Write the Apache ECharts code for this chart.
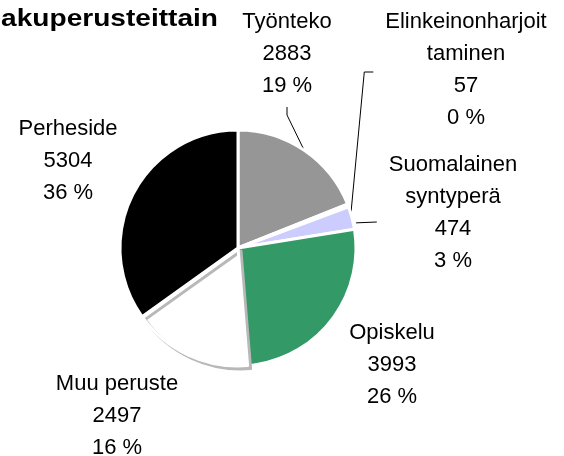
<!DOCTYPE html>
<html>
<head>
<meta charset="utf-8">
<script src="https://cdn.jsdelivr.net/npm/echarts@6/dist/echarts.min.js"></script>
<style>
  html, body { margin: 0; padding: 0; background: #fff; }
  #chart { width: 564px; height: 456px; }
</style>
</head>
<body>
<div id="chart"></div>
<script>
// ── Data ────────────────────────────────────────────────────────────────
const categories = ['Työnteko', 'Elinkeinonharjoittaminen', 'Suomalainen syntyperä', 'Opiskelu', 'Muu peruste', 'Perheside'];
const labelNames = ['Työnteko', 'Elinkeinonharjoit\ntaminen', 'Suomalainen\nsyntyperä', 'Opiskelu', 'Muu peruste', 'Perheside'];
const counts = [2883, 57, 474, 3993, 2497, 5304];
const percentLabels = ['19 %', '0 %', '3 %', '26 %', '16 %', '36 %'];
const titleText = 'akuperusteittain';

// ── Styles / layout ─────────────────────────────────────────────────────
const fontFamily = '"Liberation Sans", Arial, sans-serif';
const sliceColors = ['#969696', '#ffffff', '#ccccff', '#339966', '#ffffff', '#000000'];
const labelCenters = [[287, 54], [466, 70], [453, 213], [392, 365], [117, 416], [68, 161]];
const withLeader = [true, true, true, false, false, false];

const chart = echarts.init(document.getElementById('chart'), null, { renderer: 'canvas' });

const data = categories.map((name, i) => ({
  name: name,
  value: counts[i],
  itemStyle: Object.assign(
    { color: sliceColors[i] },
    i === 4 ? { shadowColor: '#b8b8b8', shadowOffsetX: 3, shadowOffsetY: 3, shadowBlur: 0 } : {}
  ),
  labelLine: { show: withLeader[i] },
}));

chart.setOption({
  animation: false,
  backgroundColor: '#ffffff',
  // title is cut off at the left edge in the original, and drawn a bit wide
  graphic: [{
    type: 'text',
    x: 218, y: 19,
    scaleX: 1.17,
    style: {
      text: titleText,
      font: 'bold 24px ' + fontFamily,
      fill: '#000',
      align: 'right',
      verticalAlign: 'middle',
    },
  }],
  series: [{
    type: 'pie',
    center: [238, 248],
    radius: 118,
    startAngle: 90,
    clockwise: true,
    avoidLabelOverlap: false,
    itemStyle: { borderColor: '#ffffff', borderWidth: 3 },
    emphasis: { disabled: true },
    label: {
      show: true,
      position: 'outside',
      fontFamily: fontFamily,
      fontSize: 22,
      lineHeight: 32,
      color: '#000',
      align: 'center',
      formatter: (p) => labelNames[p.dataIndex] + '\n' + counts[p.dataIndex] + '\n' + percentLabels[p.dataIndex],
    },
    labelLine: { show: true, lineStyle: { color: '#000', width: 1 } },
    labelLayout: (params) => {
      const i = params.dataIndex;
      const [x, y] = labelCenters[i];
      const w = params.labelRect.width;
      const h = params.labelRect.height;
      const out = { x: x, y: y, align: 'center', verticalAlign: 'middle' };
      const pts = params.labelLinePoints;
      if (pts && withLeader[i]) {
        const a = pts[0];
        if (i === 0) {
          const end = [x, y + h / 2 + 5];
          out.labelLinePoints = [a, [end[0], end[1] + 8], end];
        } else if (i === 1) {
          const end = [x - w / 2 - 12, y + 2];
          out.labelLinePoints = [[a[0] + 3, a[1] + 6], [end[0] - 9, end[1]], end];
        } else if (i === 2) {
          const end = [x - w / 2 - 12, y + 9];
          out.labelLinePoints = [[a[0] + 4, a[1] + 5], [a[0] + 4, a[1] + 5], end];
        }
      }
      return out;
    },
    data: data,
  }],
});
</script>
</body>
</html>
